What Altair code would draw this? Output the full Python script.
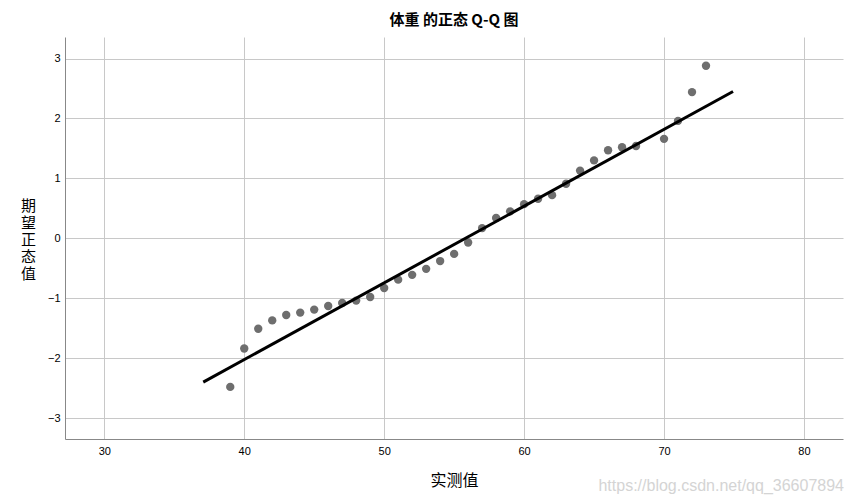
import altair as alt
import pandas as pd

# observed weights and expected normal values
observed = [39, 40, 41, 42, 43, 44, 45, 46, 47, 48, 49, 50, 51, 52, 53, 54, 55, 56,
            57, 58, 59, 60, 61, 62, 63, 64, 65, 66, 67, 68, 70, 71, 72, 73]
expected = [-2.48, -1.84, -1.51, -1.37, -1.28, -1.24, -1.19, -1.13, -1.08, -1.04,
            -0.98, -0.83, -0.69, -0.61, -0.51, -0.38, -0.26, -0.07, 0.17, 0.34,
            0.45, 0.57, 0.66, 0.72, 0.91, 1.13, 1.30, 1.47, 1.52, 1.54, 1.66,
            1.96, 2.44, 2.88]

# reference line end points
line_x = [37.07, 74.93]
line_y = [-2.40, 2.45]

x_ticks = [30, 40, 50, 60, 70, 80]
y_ticks = [-3, -2, -1, 0, 1, 2, 3]

pts = pd.DataFrame({"x": observed, "y": expected})
ln = pd.DataFrame({"x": line_x, "y": line_y})

xs = alt.Scale(domain=[27.19, 82.79], nice=False, zero=False)
ys = alt.Scale(domain=[-3.35, 3.36], nice=False, zero=False)

label_font = "Liberation Sans"
cjk = "Noto Sans CJK SC"

xaxis = alt.Axis(values=x_ticks, title="实测值", titleFont=cjk, titleFontSize=16,
                 titleFontWeight="normal", titleColor="#000000", titlePadding=16,
                 labelFont=label_font, labelFontSize=11, labelColor="#000000",
                 labelPadding=6, ticks=False, domainColor="#888888",
                 gridColor="#c8c8c8", grid=True)
yaxis = alt.Axis(values=y_ticks, title=["期", "望", "正", "态", "值"], titleFont=cjk,
                 titleFontSize=15, titleFontWeight="normal", titleColor="#000000",
                 titleAngle=0, titleAlign="center", titleBaseline="middle",
                 titleX=-37, titleY=168, titleLineHeight=17,
                 labelFont=label_font, labelFontSize=11, labelColor="#000000",
                 labelPadding=5, ticks=False, domainColor="#888888",
                 gridColor="#c8c8c8", grid=True, format="d")

points = alt.Chart(pts).mark_circle(size=70, color="#6e6e6e", opacity=1).encode(
    x=alt.X("x:Q", scale=xs, axis=xaxis),
    y=alt.Y("y:Q", scale=ys, axis=yaxis),
)

line = alt.Chart(ln).mark_line(color="#000000", strokeWidth=3).encode(
    x=alt.X("x:Q", scale=xs),
    y=alt.Y("y:Q", scale=ys),
)

wm = alt.Chart(pd.DataFrame({"t": ["https://blog.csdn.net/qq_36607894"]})).mark_text(
    align="right", baseline="middle", fontSize=16, font=label_font, color="#d4d4d4"
).encode(text="t:N", x=alt.value(779), y=alt.value(449))

chart = alt.layer(points, line, wm).properties(
    width=778, height=402,
    title=alt.TitleParams("体重 的正态 Q-Q 图", font=cjk, fontSize=15,
                          fontWeight="bold", color="#000000", offset=9, anchor="middle"),
    autosize=alt.AutoSizeParams(type="none"),
    padding={"left": 57, "top": 29, "right": 3, "bottom": 57},
).configure_view(stroke=None)

chart.save("out.html", embed_options={"renderer": "svg", "actions": False})
